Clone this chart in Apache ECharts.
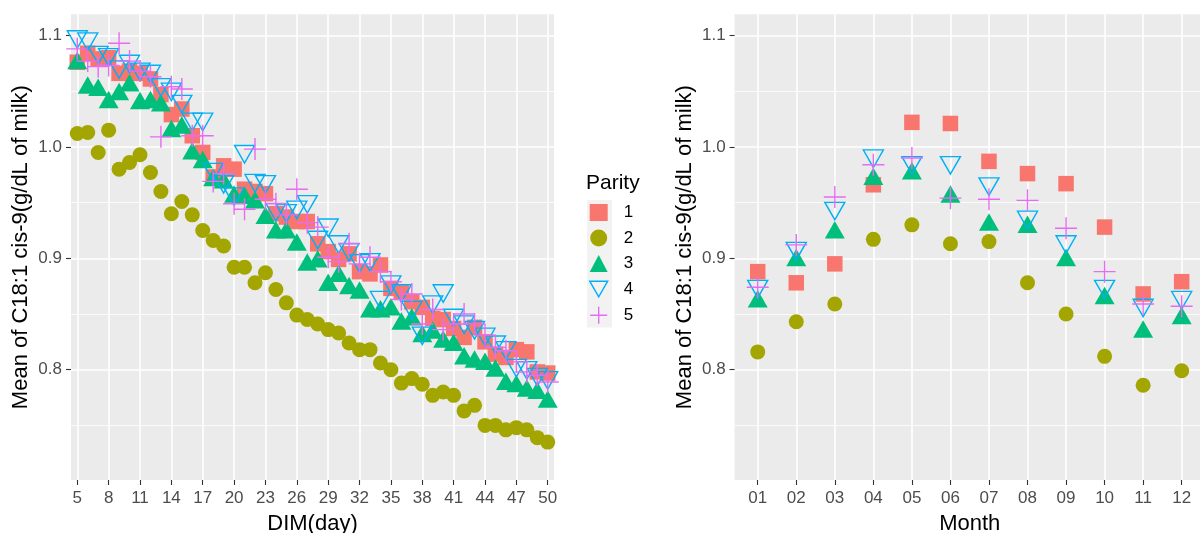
<!DOCTYPE html>
<html>
<head>
<meta charset="utf-8">
<script src="https://cdn.jsdelivr.net/npm/echarts@6/dist/echarts.min.js"></script>
<style>
html,body{margin:0;padding:0;background:#fff;}
#chart{width:1200px;height:533px;}
</style>
</head>
<body>
<div id="chart"></div>
<script>
// ---------- data ----------
const parityNames = ['1', '2', '3', '4', '5'];

const dimDays = [5,6,7,8,9,10,11,12,13,14,15,16,17,18,19,20,21,22,23,24,25,26,27,
  28,29,30,31,32,33,34,35,36,37,38,39,40,41,42,43,44,45,46,47,48,49,50];
const dimTicks = [5,8,11,14,17,20,23,26,29,32,35,38,41,44,47,50];

const dimParity1 = [1.076,1.084,1.079,1.080,1.066,1.068,1.066,1.061,1.047,1.029,1.034,1.010,0.995,
  0.973,0.983,0.980,0.962,0.960,0.958,0.940,0.937,0.933,0.933,0.913,0.906,0.899,0.904,0.888,
  0.886,0.894,0.873,0.870,0.861,0.856,0.846,0.845,0.837,0.829,0.838,0.825,0.814,0.811,0.818,
  0.816,0.798,0.797];
const dimParity2 = [1.012,1.013,0.995,1.015,0.980,0.986,0.993,0.977,0.960,0.940,0.951,0.939,0.925,
  0.916,0.911,0.892,0.892,0.878,0.887,0.872,0.860,0.849,0.845,0.841,0.836,0.833,0.824,0.818,
  0.818,0.806,0.800,0.788,0.792,0.787,0.777,0.780,0.777,0.763,0.768,0.750,0.750,0.746,0.748,
  0.746,0.739,0.735];
const dimParity3 = [1.075,1.053,1.051,1.040,1.047,1.055,1.039,1.040,1.037,1.014,1.017,0.994,0.986,
  0.970,0.968,0.955,0.954,0.950,0.936,0.923,0.923,0.912,0.894,0.897,0.876,0.884,0.873,0.869,
  0.852,0.852,0.854,0.841,0.845,0.830,0.833,0.825,0.822,0.810,0.807,0.805,0.799,0.787,0.785,
  0.781,0.779,0.771];
const dimParity4 = [1.099,1.097,1.085,1.083,1.072,1.077,1.070,1.068,1.056,1.052,1.041,1.025,1.025,
  0.980,0.969,0.958,0.996,0.970,0.969,0.944,0.943,0.946,0.951,0.919,0.930,0.915,0.908,0.898,
  0.899,0.865,0.879,0.871,0.856,0.833,0.861,0.871,0.849,0.843,0.838,0.832,0.825,0.820,0.804,
  0.802,0.796,0.793];
const dimParity5 = [1.088,1.077,1.072,1.073,1.093,1.077,1.068,1.063,1.009,1.054,1.052,1.010,1.010,
  0.969,0.976,0.949,0.944,0.998,0.953,0.949,0.939,0.962,0.932,0.928,0.901,0.897,0.913,0.895,
  0.901,0.888,0.879,0.863,0.868,0.841,0.854,0.836,0.841,0.850,0.841,0.831,0.820,0.817,0.807,
  0.798,0.795,0.789];

const months = ['01','02','03','04','05','06','07','08','09','10','11','12'];
const monthParity1 = [0.888,0.878,0.895,0.966,1.022,1.021,0.987,0.976,0.967,0.928,0.868,0.879];
const monthParity2 = [0.816,0.843,0.859,0.917,0.930,0.913,0.915,0.878,0.850,0.812,0.786,0.799];
const monthParity3 = [0.861,0.898,0.923,0.971,0.976,0.955,0.930,0.928,0.898,0.864,0.834,0.846];
const monthParity4 = [0.875,0.909,0.945,0.992,0.986,0.986,0.967,0.937,0.915,0.875,0.858,0.865];
const monthParity5 = [0.874,0.912,0.955,0.984,0.990,0.954,0.953,0.952,0.927,0.888,0.859,0.857];

const yTicks = [0.8, 0.9, 1.0, 1.1];
const yMinorTicks = [0.75, 0.85, 0.95, 1.05];

// ---------- styling ----------
const FONT = 'Liberation Sans, Arial, Helvetica, sans-serif';
const colors = ['#F8766D', '#A3A500', '#00BF7D', '#00B0F6', '#E76BF3'];
const TRANSPARENT = 'rgba(0,0,0,0)';
const symbolDefs = [
  { symbol: 'rect', symbolSize: 15.5, itemStyle: { color: colors[0], opacity: 1 } },
  { symbol: 'circle', symbolSize: 15, itemStyle: { color: colors[1], opacity: 1 } },
  { symbol: 'triangle', symbolSize: [20, 17.5], symbolOffset: [0, -2.9],
    itemStyle: { color: colors[2], opacity: 1 } },
  { symbol: 'path://M0,0L20,0L10,17.32Z', symbolSize: [20, 17.5], symbolOffset: [0, 2.9],
    itemStyle: { color: TRANSPARENT, borderColor: colors[3], borderWidth: 1.4, opacity: 1 } },
  { symbol: 'path://M10,0L10,20M0,10L20,10', symbolSize: 22,
    itemStyle: { color: TRANSPARENT, borderColor: colors[4], borderWidth: 1.4, opacity: 1 } }
];

const dimSeriesData = [dimParity1, dimParity2, dimParity3, dimParity4, dimParity5];
const monthSeriesData = [monthParity1, monthParity2, monthParity3, monthParity4, monthParity5];

const series = [];
dimSeriesData.forEach((vals, p) => {
  series.push(Object.assign({
    type: 'scatter', name: parityNames[p], xAxisIndex: 0, yAxisIndex: 0,
    data: dimDays.map((d, i) => [d, vals[i]]), silent: true, z: 2 + p
  }, symbolDefs[p]));
});
monthSeriesData.forEach((vals, p) => {
  series.push(Object.assign({
    type: 'scatter', name: parityNames[p], xAxisIndex: 1, yAxisIndex: 2,
    data: months.map((m, i) => [i + 1, vals[i]]), silent: true, z: 2 + p
  }, symbolDefs[p]));
});

const tickStyle = { show: true, length: 5, lineStyle: { color: '#333333', width: 1.1 } };
const labelStyle = { color: '#4D4D4D', fontSize: 17, fontFamily: FONT };
const majorLine = { show: true, lineStyle: { color: '#FFFFFF', width: 1.6 } };
const minorLine = { show: true, lineStyle: { color: '#FFFFFF', width: 0.8 } };
const yTitle = 'Mean of C18:1 cis-9(g/dL of milk)';
const nameStyle = { color: '#000', fontSize: 22, fontFamily: FONT };

function yMajor(gridIndex) {
  return {
    type: 'value', gridIndex, min: 0.701, max: 1.119,
    axisLine: { show: false },
    axisTick: Object.assign({ customValues: yTicks }, tickStyle),
    axisLabel: Object.assign({ customValues: yTicks, margin: 9,
      formatter: v => (Math.round(v * 10) / 10).toFixed(1) }, labelStyle),
    splitLine: majorLine,
    name: yTitle, nameLocation: 'middle', nameGap: 39, nameTextStyle: nameStyle,
    nameMoveOverlap: false, z: 1
  };
}
function yMinor(gridIndex) {
  return {
    type: 'value', gridIndex, min: 0.701, max: 1.119,
    axisLine: { show: false },
    axisTick: { show: false, customValues: yMinorTicks },
    axisLabel: { show: false, customValues: yMinorTicks },
    splitLine: minorLine, z: 0
  };
}

const option = {
  animation: false,
  textStyle: { fontFamily: FONT },
  grid: [
    { left: 71, top: 14.3, width: 483, height: 465.7, show: true, backgroundColor: '#EBEBEB',
      borderWidth: 0, containLabel: false, outerBoundsMode: 'none' },
    { left: 734.6, top: 14.3, width: 470.2, height: 465.7, show: true, backgroundColor: '#EBEBEB',
      borderWidth: 0, containLabel: false, outerBoundsMode: 'none' }
  ],
  xAxis: [
    {
      type: 'value', gridIndex: 0, min: 4.4, max: 50.6,
      axisLine: { show: false },
      axisTick: Object.assign({ customValues: dimTicks }, tickStyle),
      axisLabel: Object.assign({ customValues: dimTicks, margin: 10 }, labelStyle),
      splitLine: majorLine,
      name: 'DIM(day)', nameLocation: 'middle', nameGap: 33, nameTextStyle: nameStyle,
      nameMoveOverlap: false
    },
    {
      type: 'value', gridIndex: 1, min: 0.4, max: 12.6,
      axisLine: { show: false },
      axisTick: Object.assign({ customValues: months.map((m, i) => i + 1) }, tickStyle),
      axisLabel: Object.assign({ customValues: months.map((m, i) => i + 1), margin: 10,
        formatter: v => months[Math.round(v) - 1] }, labelStyle),
      splitLine: majorLine,
      name: 'Month', nameLocation: 'middle', nameGap: 33, nameTextStyle: nameStyle,
      nameMoveOverlap: false
    }
  ],
  yAxis: [yMajor(0), yMinor(0), yMajor(1), yMinor(1)],
  title: {
    text: 'Parity', left: 586, top: 173, padding: 0,
    textStyle: { fontSize: 21, fontWeight: 'normal', color: '#000', fontFamily: FONT }
  },
  legend: {
    data: parityNames, orient: 'vertical', left: 589, top: 204, padding: 0,
    itemWidth: 18, itemHeight: 17, itemGap: 8.5, selectedMode: false,
    itemStyle: { borderWidth: 1.4, opacity: 1 },
    textStyle: { fontSize: 17, color: '#000', fontFamily: FONT, padding: [0, 0, 0, 11] }
  },
  graphic: [
    { type: 'rect', z: -1, shape: { x: 587, y: 200, width: 25, height: 127.5 },
      style: { fill: '#F2F2F2' }, silent: true }
  ],
  series
};

const chart = echarts.init(document.getElementById('chart'), null, { renderer: 'canvas' });
chart.setOption(option);
</script>
</body>
</html>
